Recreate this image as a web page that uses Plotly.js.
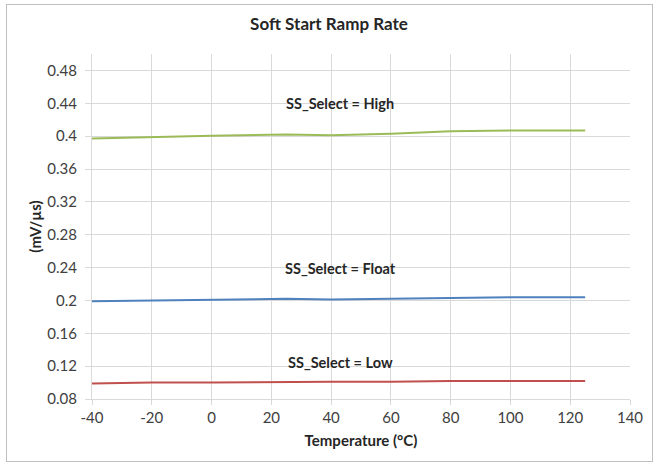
<!DOCTYPE html>
<html><head><meta charset="utf-8">
<script src="https://cdn.plot.ly/plotly-3.0.1.min.js"></script>
<style>
body{margin:0;padding:0;background:#fff;}
#wrap{position:relative;width:658px;height:464px;}
#chart{position:absolute;left:0;top:0;width:658px;height:464px;}
#frame{position:absolute;left:6px;top:4px;width:645px;height:456px;border:1px solid #bfbfbf;pointer-events:none;}
</style></head>
<body>
<div id="wrap"><div id="chart"></div><div id="frame"></div></div>
<script>
const temperature = [-40, -20, 0, 25, 40, 60, 80, 100, 125];
const rateHigh  = [0.397, 0.399, 0.4005, 0.402, 0.401, 0.403, 0.406, 0.407, 0.407];
const rateFloat = [0.199, 0.200, 0.201, 0.202, 0.201, 0.202, 0.203, 0.204, 0.204];
const rateLow   = [0.099, 0.100, 0.100, 0.101, 0.101, 0.101, 0.102, 0.102, 0.102];
const seriesNames = ['SS_Select = High', 'SS_Select = Float', 'SS_Select = Low'];
const labelY = [0.44, 0.2385, 0.1245];
const xTickVals = [-40, -20, 0, 20, 40, 60, 80, 100, 120, 140];
const xTickText = ['-40', '-20', '0', '20', '40', '60', '80', '100', '120', '140'];
const yTickVals = [0.08, 0.12, 0.16, 0.2, 0.24, 0.28, 0.32, 0.36, 0.4, 0.44, 0.48];
const yTickText = ['0.08', '0.12', '0.16', '0.2', '0.24', '0.28', '0.32', '0.36', '0.4', '0.44', '0.48'];

const FONT = 'Lato, "Open Sans", sans-serif';
const traces = [
  {x: temperature, y: rateHigh, name: seriesNames[0], mode: 'lines', line: {color: '#9BBB59', width: 2}},
  {x: temperature, y: rateFloat, name: seriesNames[1], mode: 'lines', line: {color: '#4F81BD', width: 2}},
  {x: temperature, y: rateLow, name: seriesNames[2], mode: 'lines', line: {color: '#C0504D', width: 2}}
];
const ann = seriesNames.map((t, i) => ({
  x: 43, y: labelY[i], xref: 'x', yref: 'y', text: '<b>' + t + '</b>', showarrow: false,
  font: {family: FONT, size: 14.5, color: '#262626'}, xanchor: 'center', yanchor: 'middle'
}));
const layout = {
  width: 658, height: 464,
  margin: {l: 92, r: 28, t: 54, b: 65},
  paper_bgcolor: '#fff', plot_bgcolor: '#fff',
  showlegend: false,
  title: {text: '<b>Soft Start Ramp Rate</b>', x: 0.5, xanchor: 'center', y: 0.948, yanchor: 'middle',
          font: {family: FONT, size: 17, color: '#262626'}},
  xaxis: {
    range: [-40, 140], tickvals: xTickVals, ticktext: xTickText,
    showgrid: true, gridcolor: '#d9d9d9', gridwidth: 1,
    showline: true, linecolor: '#d9d9d9', linewidth: 1,
    ticks: 'outside', ticklen: 5, tickcolor: '#d9d9d9',
    zeroline: false,
    tickfont: {family: FONT, size: 15, color: '#404040'},
    title: {text: '<b>Temperature (°C)</b>', font: {family: FONT, size: 15, color: '#262626'}, standoff: 10}
  },
  yaxis: {
    range: [0.08, 0.5], tickvals: yTickVals, ticktext: yTickText,
    showgrid: true, gridcolor: '#d9d9d9', gridwidth: 1,
    showline: true, linecolor: '#d9d9d9', linewidth: 1,
    ticks: 'outside', ticklen: 6, tickcolor: '#d9d9d9',
    ticklabelstandoff: 5,
    zeroline: false,
    tickfont: {family: FONT, size: 15, color: '#404040'},
    title: {text: '<b>(mV/µs)</b>', font: {family: FONT, size: 15, color: '#262626'}, standoff: 2}
  },
  annotations: ann
};
Plotly.newPlot('chart', traces, layout, {displayModeBar: false, staticPlot: true});
</script>
</body></html>
